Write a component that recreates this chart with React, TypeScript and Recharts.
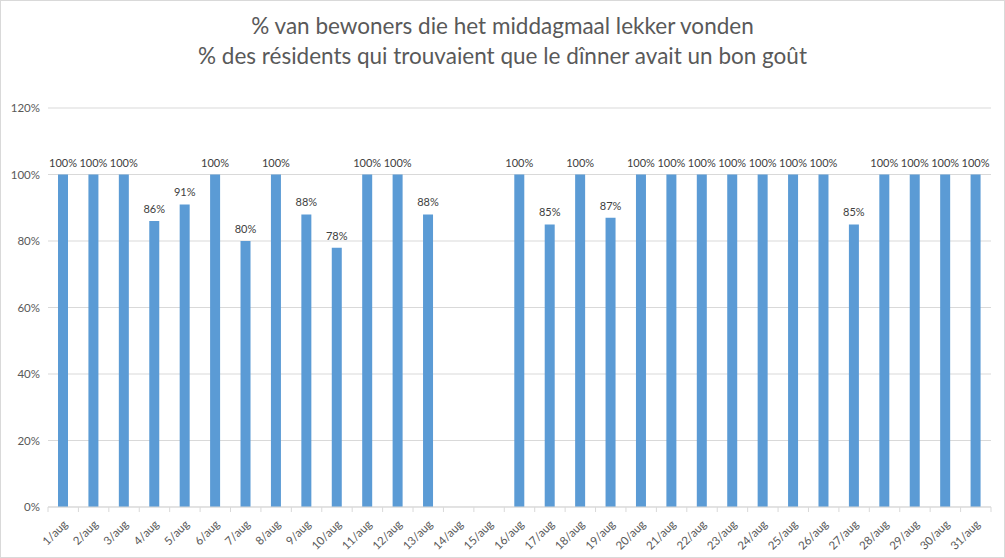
import React from "react";
import { BarChart, Bar, XAxis, YAxis, CartesianGrid, LabelList } from "recharts";

// dagen van augustus
const DAYS = [
  "1/aug", "2/aug", "3/aug", "4/aug", "5/aug", "6/aug", "7/aug", "8/aug",
  "9/aug", "10/aug", "11/aug", "12/aug", "13/aug", "14/aug", "15/aug", "16/aug",
  "17/aug", "18/aug", "19/aug", "20/aug", "21/aug", "22/aug", "23/aug", "24/aug",
  "25/aug", "26/aug", "27/aug", "28/aug", "29/aug", "30/aug", "31/aug",
];

// % lekker gevonden (null = geen meting)
const PCT: (number | null)[] = [
  100, 100, 100, 86, 91, 100, 80, 100, 88, 78, 100, 100, 88, null, null, 100,
  85, 100, 87, 100, 100, 100, 100, 100, 100, 100, 85, 100, 100, 100, 100,
];

const Y_TICKS = [0, 20, 40, 60, 80, 100, 120];

const TITLE_NL = "% van bewoners die het middagmaal lekker vonden";
const TITLE_FR = "% des résidents qui trouvaient que le dînner avait un bon goût";

const FONT = "Lato, 'Open Sans', sans-serif";
const GREY = "#595959";

const data = DAYS.map((day, i) => ({ day, pct: PCT[i] }));

const DayTick = (props: any) => {
  const { x, y, payload, width, visibleTicksCount } = props;
  const half = width / visibleTicksCount / 2;
  return (
    <g>
      <line x1={x + half} y1={y - 8} x2={x + half} y2={y - 3} stroke="#D9D9D9" />
      {payload.index === 0 && (
        <line x1={x - half} y1={y - 8} x2={x - half} y2={y - 3} stroke="#D9D9D9" />
      )}
      <text
        x={x + 5}
        y={y + 10}
        textAnchor="end"
        fontSize={11.5}
        fill={GREY}
        fontFamily={FONT}
        transform={`rotate(-45, ${x + 5}, ${y + 10})`}
      >
        {payload.value}
      </text>
    </g>
  );
};

export default function App() {
  return (
    <div
      style={{
        position: "absolute",
        left: 0,
        top: 0,
        width: 1005,
        height: 558,
        boxSizing: "border-box",
        border: "1px solid #D9D9D9",
        background: "#fff",
        fontFamily: FONT,
      }}
    >
      <div
        style={{
          position: "absolute",
          top: 10,
          left: 0,
          width: 1003,
          textAlign: "center",
          color: GREY,
          fontSize: 22.5,
          lineHeight: "30px",
        }}
      >
        <div>{TITLE_NL}</div>
        <div>{TITLE_FR}</div>
      </div>
      <BarChart
        width={1003}
        height={556}
        data={data}
        margin={{ top: 107, right: 13, bottom: 0, left: 0 }}
      >
        <CartesianGrid vertical={false} stroke="#D9D9D9" />
        <XAxis
          dataKey="day"
          interval={0}
          height={50}
          axisLine={{ stroke: "#D9D9D9" }}
          tickLine={false}
          tick={<DayTick />}
        />
        <YAxis
          domain={[0, 120]}
          ticks={Y_TICKS}
          width={47}
          axisLine={false}
          tickLine={false}
          tickFormatter={(v: number) => `${v}%`}
          tick={{ fontSize: 11.5, fill: GREY, fontFamily: FONT }}
        />
        <Bar dataKey="pct" fill="#5B9BD5" barSize={10} isAnimationActive={false}>
          <LabelList
            dataKey="pct"
            position="top"
            offset={8}
            formatter={(v: any) => (v == null ? "" : `${v}%`)}
            style={{ fontSize: 11, fill: "#404040", fontFamily: FONT }}
          />
        </Bar>
      </BarChart>
    </div>
  );
}
